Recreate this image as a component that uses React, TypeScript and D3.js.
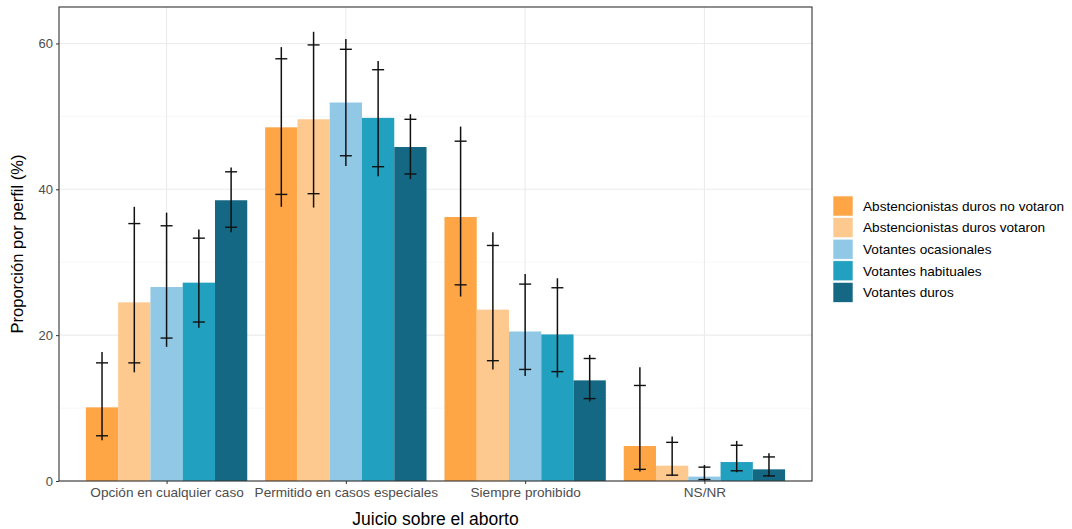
import React, { useEffect, useRef } from 'react';
import * as d3 from 'd3';

// categories on the x axis
const categories = ['Opción en cualquier caso', 'Permitido en casos especiales', 'Siempre prohibido', 'NS/NR'];

// profiles (fill)
const profiles = [
  'Abstencionistas duros no votaron',
  'Abstencionistas duros votaron',
  'Votantes ocasionales',
  'Votantes habituales',
  'Votantes duros',
];
const colors = ['#FEA545', '#FEC98E', '#90C8E5', '#22A0BF', '#146884'];

// proportion per profile, one array per category (same order as profiles)
const values = [
  [10.1, 24.5, 26.6, 27.2, 38.5],
  [48.5, 49.6, 51.9, 49.8, 45.8],
  [36.2, 23.5, 20.5, 20.1, 13.8],
  [4.8, 2.1, 0.6, 2.6, 1.6],
];
// outer interval (vertical line)
const outerLow = [
  [5.6, 14.9, 18.4, 21.0, 34.1],
  [37.6, 37.5, 43.2, 41.8, 41.4],
  [25.3, 15.3, 14.4, 14.2, 10.9],
  [1.3, 0.7, 0.0, 1.2, 0.6],
];
const outerHigh = [
  [17.7, 37.6, 36.8, 34.5, 43.0],
  [59.5, 61.6, 60.6, 57.6, 50.3],
  [48.6, 34.1, 28.4, 27.8, 17.3],
  [15.6, 6.1, 2.2, 5.5, 3.8],
];
// inner interval (crossbars)
const innerLow = [
  [6.2, 16.2, 19.6, 21.8, 34.8],
  [39.3, 39.4, 44.6, 43.1, 42.1],
  [26.9, 16.5, 15.3, 15.0, 11.3],
  [1.6, 0.8, 0.2, 1.4, 0.7],
];
const innerHigh = [
  [16.2, 35.3, 35.0, 33.3, 42.4],
  [57.9, 59.8, 59.2, 56.4, 49.6],
  [46.6, 32.3, 27.0, 26.5, 16.8],
  [13.1, 5.3, 1.9, 4.9, 3.3],
];
const yTicks = [0, 20, 40, 60];
const yMinor = [10, 30, 50];

const W = 1072;
const H = 529;
const margin = { top: 7, right: 260, bottom: 48, left: 59 };
const FONT = '"Liberation Sans", Arial, sans-serif';

const App = () => {
  const svgRef = useRef<SVGSVGElement>(null);

  useEffect(() => {
    const svg = d3.select(svgRef.current);
    svg.selectAll('*').remove();

    const x0 = margin.left;
    const x1 = W - margin.right;
    const y0 = H - margin.bottom;
    const y1 = margin.top;

    // discrete scale with ggplot-like 0.6 expansion on each side
    const step = (x1 - x0) / (categories.length - 1 + 1.2);
    const x = d3
      .scalePoint<string>()
      .domain(categories)
      .range([x0 + 0.6 * step, x1 - 0.6 * step]);
    const groupW = step * 0.9;
    const xInner = d3.scaleBand<number>().domain(d3.range(profiles.length)).range([-groupW / 2, groupW / 2]).padding(0);

    const y = d3.scaleLinear().domain([0, 65]).range([y0, y1]);

    const g = svg.append('g');

    // grid
    g.selectAll('.minor')
      .data(yMinor)
      .join('line')
      .attr('x1', x0).attr('x2', x1)
      .attr('y1', d => y(d)).attr('y2', d => y(d))
      .attr('stroke', '#f2f2f2').attr('stroke-width', 0.6);
    g.selectAll('.major')
      .data(yTicks)
      .join('line')
      .attr('x1', x0).attr('x2', x1)
      .attr('y1', d => y(d)).attr('y2', d => y(d))
      .attr('stroke', '#ebebeb').attr('stroke-width', 1.1);
    g.selectAll('.vmajor')
      .data(categories)
      .join('line')
      .attr('x1', d => x(d)!).attr('x2', d => x(d)!)
      .attr('y1', y0).attr('y2', y1)
      .attr('stroke', '#ebebeb').attr('stroke-width', 1.1);

    // bars
    categories.forEach((cat, ci) => {
      const cx = x(cat)!;
      const grp = g.append('g');
      grp.selectAll('rect')
        .data(values[ci])
        .join('rect')
        .attr('x', (_, i) => cx + xInner(i)!)
        .attr('width', xInner.bandwidth())
        .attr('y', d => y(d))
        .attr('height', d => y0 - y(d))
        .attr('fill', (_, i) => colors[i]);
    });

    // error bars
    categories.forEach((cat, ci) => {
      const cx = x(cat)!;
      const grp = g.append('g').attr('stroke', '#111').attr('fill', 'none');
      profiles.forEach((_, i) => {
        const mx = cx + xInner(i)! + xInner.bandwidth() / 2;
        grp.append('line')
          .attr('x1', mx).attr('x2', mx)
          .attr('y1', y(outerLow[ci][i])).attr('y2', y(outerHigh[ci][i]))
          .attr('stroke-width', 1.5);
        [innerLow[ci][i], innerHigh[ci][i]].forEach(v => {
          grp.append('line')
            .attr('x1', mx - 6).attr('x2', mx + 6)
            .attr('y1', y(v)).attr('y2', y(v))
            .attr('stroke-width', 1.4);
        });
      });
    });

    // panel border
    g.append('rect')
      .attr('x', x0).attr('y', y1)
      .attr('width', x1 - x0).attr('height', y0 - y1)
      .attr('fill', 'none').attr('stroke', '#333333').attr('stroke-width', 1.1);

    // axes
    const yAxis = d3.axisLeft(y).tickValues(yTicks).tickSize(3).tickPadding(3).tickSizeOuter(0);
    const ya = g.append('g').attr('transform', `translate(${x0},0)`).call(yAxis);
    ya.select('.domain').remove();
    ya.selectAll('line').attr('stroke', '#333333');
    ya.selectAll('text').attr('fill', '#4d4d4d').style('font-size', '13px').style('font-family', FONT);

    const xAxis = d3.axisBottom(x).tickSize(3).tickPadding(3).tickSizeOuter(0);
    const xa = g.append('g').attr('transform', `translate(0,${y0})`).call(xAxis);
    xa.select('.domain').remove();
    xa.selectAll('line').attr('stroke', '#333333');
    xa.selectAll('text').attr('fill', '#4d4d4d').style('font-size', '13.6px').style('font-family', FONT);

    // axis titles
    g.append('text')
      .attr('x', (x0 + x1) / 2).attr('y', H - 4)
      .attr('text-anchor', 'middle')
      .style('font-size', '17.5px').style('font-family', FONT)
      .text('Juicio sobre el aborto');
    g.append('text')
      .attr('transform', `translate(23,${(y0 + y1) / 2}) rotate(-90)`)
      .attr('text-anchor', 'middle')
      .style('font-size', '16.5px').style('font-family', FONT)
      .text('Proporción por perfil (%)');

    // legend
    const lg = g.append('g').attr('transform', 'translate(833,196)');
    const item = lg.selectAll('g').data(profiles).join('g')
      .attr('transform', (_, i) => `translate(0,${i * 21.6})`);
    item.append('rect')
      .attr('width', 20).attr('height', 20)
      .attr('fill', (_, i) => colors[i])
      .attr('stroke', '#fff').attr('stroke-width', 0.6);
    item.append('text')
      .attr('x', 30).attr('y', 10).attr('dy', '0.35em')
      .style('font-size', '13.6px').style('font-family', FONT)
      .text(d => d);
  }, []);

  return (
    <div style={{ position: 'absolute', left: 0, top: 0 }}>
      <svg ref={svgRef} width={W} height={H} style={{ display: 'block', background: '#fff' }} />
    </div>
  );
};

export default App;
